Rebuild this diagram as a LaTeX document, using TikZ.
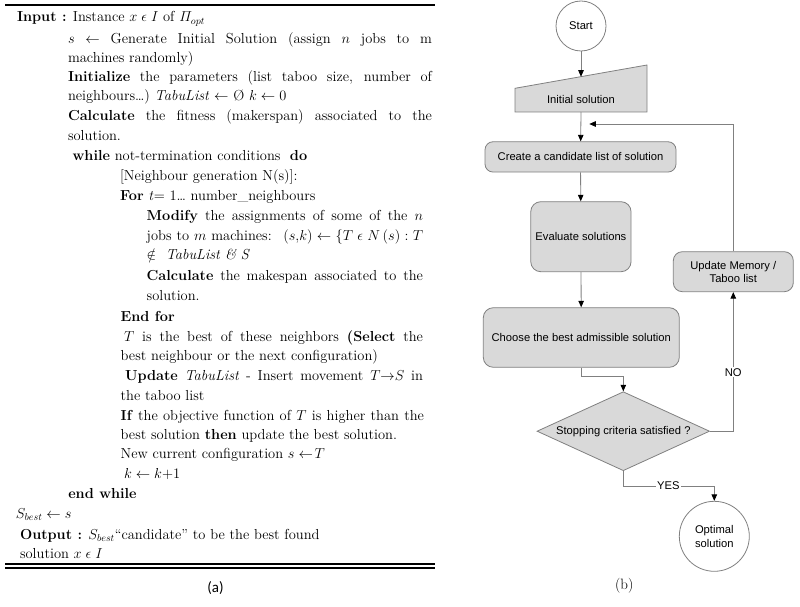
\documentclass[tikz,border=0pt]{standalone}
\usepackage{amsmath}
\usepackage{fontspec}
\newfontfamily\arialf{Liberation Sans}
\newfontfamily\carlitof{Carlito}
\usetikzlibrary{arrows.meta,shapes.geometric}
\definecolor{lc}{HTML}{808080}
\definecolor{fc}{HTML}{D9D9D9}
\newcommand{\jline}[2]{\makebox[#1pt][s]{#2}}
\newcommand{\ein}{\mathrel{\epsilon}}
\tikzset{
  txt/.style={anchor=base west, inner sep=0pt, outer sep=0pt, font=\fontsize{14.5}{17}\selectfont},
  ffont/.style={font=\arialf\fontsize{11.2}{13.4}\selectfont},
  box/.style={draw=lc, fill=fc, line width=0.8pt, inner sep=2pt, align=center, ffont},
  circ/.style={circle, draw=lc, fill=white, line width=0.8pt, inner sep=0pt, align=center, ffont},
  arr/.style={draw=lc, line width=0.8pt, -{Triangle[length=6.5pt,width=5.5pt,color=black]}},
  lbl/.style={fill=white, inner sep=1.2pt, ffont},
  rulestyle/.style={draw=black, line width=1.9pt}
}
\begin{document}
\begin{tikzpicture}[x=1pt,y=-1pt]
\useasboundingbox (0,0) rectangle (800,607);
% ---------- (a) algorithm ----------
\draw[rulestyle] (5,4.6) -- (435,4.6);
\node[txt] (l0) at (17,22) {\textbf{Input :} Instance $x \ein I$ of $\varPi_{opt}$};
\node[txt] (l1) at (68,44) {\jline{364}{$s$ $\leftarrow$ Generate Initial Solution (assign $n$ jobs to m}};
\node[txt] (l2) at (68,63) {machines randomly)};
\node[txt] (l3) at (68,82) {\jline{364}{\textbf{Initialize} the parameters (list taboo size, number of}};
\node[txt] (l4) at (68,101) {neighbours\ldots) \textit{TabuList} $\leftarrow$ Ø $k \leftarrow 0$};
\node[txt] (l5) at (68,121) {\jline{364}{\textbf{Calculate} the fitness (makerspan) associated to the}};
\node[txt] (l6) at (68,140) {solution.};
\node[txt] (l7) at (72.7,160) {\textbf{while} not-termination conditions \ \textbf{do}};
\node[txt] (l8) at (120,180) {[Neighbour generation N(s)]:};
\node[txt] (l9) at (120,200) {\textbf{For} \textit{t}= 1\ldots{} number\_neighbours};
\node[txt] (l10) at (146.7,220) {\jline{276.3}{\textbf{Modify} the assignments of some of the $n$}};
\node[txt] (l11) at (146.7,240) {\jline{276.3}{jobs to $m$ machines: \ $(s{,}k) \leftarrow \{T \ein N\,(s) : T$}};
\node[txt] (l12) at (146.7,259.5) {$\notin$ \ \textit{TabuList \& S}};
\node[txt] (l13) at (146.7,280) {\jline{276.3}{\textbf{Calculate} the makespan associated to the}};
\node[txt] (l14) at (146.7,300) {solution.};
\node[txt] (l15) at (120.7,321) {\textbf{End for}};
\node[txt] (l16) at (124,341) {\jline{299}{$T$ is the best of these neighbors \textbf{(Select} the}};
\node[txt] (l17) at (120.7,360) {best neighbour or the next configuration)};
\node[txt] (l18) at (125,380) {\jline{298}{\textbf{Update} \textit{TabuList} - Insert movement $T{\rightarrow}S$ in}};
\node[txt] (l19) at (120.7,400) {the taboo list};
\node[txt] (l20) at (120.7,420) {\jline{303.3}{\textbf{If} the objective function of $T$ is higher than the}};
\node[txt] (l21) at (120.7,439) {best solution \textbf{then} update the best solution.};
\node[txt] (l22) at (120.7,458) {New current configuration $s \leftarrow\!T$};
\node[txt] (l23) at (124,478) {$k \leftarrow k$+1};
\node[txt] (l24) at (68.3,498) {\textbf{end while}};
\node[txt] (l25) at (16,518) {$S_{best} \leftarrow s$};
\node[txt] (l26) at (20,539) {\textbf{Output :} $S_{best}$“candidate” to be the best found};
\node[txt] (l27) at (20,558) {solution $x \ein I$};
\draw[rulestyle, line width=2.1pt] (5,563.8) -- (435,563.8);
\draw[rulestyle, line width=2.1pt] (5,567.9) -- (435,567.9);
\node[font=\carlitof\fontsize{15}{17}\selectfont, inner sep=0pt] (capa) at (215.5,588.3) {(a)};
% ---------- (b) flowchart ----------
\node[circ, minimum size=50] (start) at (581,26) {Start};
\filldraw[draw=lc, fill=fc, line width=0.8pt] (515,112) -- (647,112) -- (647,65) -- (515,88.3) -- cycle;
\node[ffont, inner sep=0pt] (init) at (581,99.5) {Initial solution};
\coordinate (initTop) at (581,76.7);
\coordinate (initBot) at (581,112);
\node[box, rounded corners=8pt, minimum width=191, minimum height=30.3] (create) at (580.5,156.9) {Create a candidate list of solution};
\node[box, rounded corners=10pt, minimum width=100.3, minimum height=70] (eval) at (580.9,236.7) {Evaluate solutions};
\node[box, rounded corners=10pt, minimum width=196, minimum height=59.6] (choose) at (581.3,337.5) {Choose the best admissible solution};
\node[box, rounded corners=9pt, minimum width=120, minimum height=40] (update) at (733.3,271.7) {Update Memory /\\Taboo list};
\node[diamond, draw=lc, fill=fc, line width=0.8pt, inner sep=0pt, aspect=2.18, minimum width=172.6, minimum height=79, ffont] (diam) at (623.3,431.2) {Stopping criteria satisfied ?};
\node[circ, minimum size=70] (opt) at (714.3,536.3) {Optimal\\solution};
\coordinate (fb) at (589.3,124);
\draw[arr] (start) -- (initTop);
\draw[arr] (initBot) -- (create);
\draw[arr] (create) -- (eval);
\draw[arr] (eval) -- (choose);
\draw[arr] (choose.south) -- ++(0,8.4) -| (diam.north);
\draw[arr] (diam.east) -| (update.south);
\draw[arr] (update.north) |- (fb);
\draw[arr] (diam.south) -- ++(0,15.3) -| (opt.north);
\node[lbl] (no) at (733.3,372.3) {NO};
\node[lbl] (yes) at (668.3,486) {YES};
\node[font=\fontsize{15}{17}\selectfont, inner sep=0pt] (capb) at (624.3,585.5) {(b)};
\end{tikzpicture}
\end{document}
